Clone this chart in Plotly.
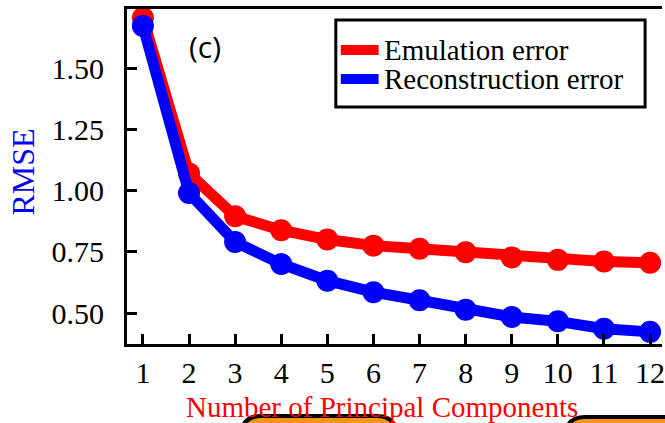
import plotly.graph_objects as go

components = [1, 2, 3, 4, 5, 6, 7, 8, 9, 10, 11, 12]
emulation_error = [1.705, 1.07, 0.895, 0.838, 0.80, 0.775, 0.762, 0.748, 0.727, 0.717, 0.710, 0.705]
reconstruction_error = [1.672, 0.99, 0.79, 0.70, 0.632, 0.585, 0.552, 0.513, 0.484, 0.466, 0.436, 0.423]
series_names = ["Emulation error", "Reconstruction error"]
y_ticks = [0.50, 0.75, 1.00, 1.25, 1.50]
y_tick_labels = ["0.50", "0.75", "1.00", "1.25", "1.50"]
x_tick_labels = [str(c) for c in components]

RED = "#ff0000"
BLUE = "#0000ff"
SERIF = "Liberation Serif, DejaVu Serif, serif"

W, H = 665, 423
L, R, T, B = 127, 0, 9, 79
PW, PH = W - L - R, H - T - B


def px(x):
    return (x - L) / PW


def py(y):
    return (H - B - y) / PH


fig = go.Figure()
for vals, col, name in [(emulation_error, RED, series_names[0]),
                        (reconstruction_error, BLUE, series_names[1])]:
    fig.add_trace(go.Scatter(
        x=components, y=vals, mode="lines+markers", name=name,
        line=dict(color=col, width=11),
        marker=dict(color=col, size=22),
        showlegend=False, cliponaxis=False,
    ))

shapes = []
# legend box
shapes.append(dict(type="rect", xref="paper", yref="paper",
                   x0=px(337), x1=px(648), y0=py(107), y1=py(20),
                   line=dict(color="black", width=3), fillcolor="white", layer="above"))
annotations = []
for i, (col, name) in enumerate([(RED, series_names[0]), (BLUE, series_names[1])]):
    yy = 50 + 29 * i
    shapes.append(dict(type="line", xref="paper", yref="paper",
                       x0=px(342), x1=px(380), y0=py(yy), y1=py(yy),
                       line=dict(color=col, width=10), layer="above"))
    annotations.append(dict(x=px(383), y=py(yy), xref="paper", yref="paper",
                            text=name, showarrow=False, xanchor="left", yanchor="middle",
                            font=dict(family=SERIF, size=29, color="black")))

# (c) label
annotations.append(dict(x=px(205), y=py(47), xref="paper", yref="paper", text="(c)",
                        showarrow=False, xanchor="center", yanchor="middle",
                        font=dict(family="Open Sans, DejaVu Sans, sans-serif", size=30, color="black")))
# axis titles
annotations.append(dict(x=px(22), y=py(172), xref="paper", yref="paper", text="RMSE",
                        showarrow=False, textangle=-90, xanchor="center", yanchor="middle",
                        font=dict(family=SERIF, size=32, color=BLUE)))
annotations.append(dict(x=px(383), y=py(407), xref="paper", yref="paper",
                        text="Number of Principal Components",
                        showarrow=False, xanchor="center", yanchor="middle",
                        font=dict(family=SERIF, size=29, color=RED)))


def rounded_top(x0, x1, ytop, ybot, r):
    rx = r / PW
    ry = r / PH
    X0, X1, YT, YB = px(x0), px(x1), py(ytop), py(ybot)
    return (f"M {X0},{YB} L {X0},{YT - ry} Q {X0},{YT} {X0 + rx},{YT} "
            f"L {X1 - rx},{YT} Q {X1},{YT} {X1},{YT - ry} L {X1},{YB} Z")


for x0, x1, ytop in [(242, 398, 416), (568, 720, 417)]:
    shapes.append(dict(type="path", xref="paper", yref="paper",
                       path=rounded_top(x0, x1, ytop, 460, 20),
                       fillcolor="#f7941d", line=dict(color="black", width=4), layer="above"))

fig.update_layout(
    width=W, height=H,
    margin=dict(l=L, r=R, t=T, b=B, pad=0),
    paper_bgcolor="white", plot_bgcolor="white",
    shapes=shapes, annotations=annotations,
    xaxis=dict(range=[1 - 16 / 46.36, 12 + 12 / 46.36], tickvals=components, ticktext=x_tick_labels,
               showgrid=False, zeroline=False, showline=True, linecolor="black", linewidth=3,
               mirror=True, ticks="inside", ticklen=10, tickwidth=3, tickcolor="black",
               ticklabelstandoff=0, ticklabeloverflow="allow",
               tickfont=dict(family=SERIF, size=30, color="black")),
    yaxis=dict(range=[0.3735, 1.741], tickvals=y_ticks, ticktext=y_tick_labels,
               showgrid=False, zeroline=False, showline=True, linecolor="black", linewidth=3,
               ticks="inside", ticklen=10, tickwidth=3, tickcolor="black",
               ticklabelstandoff=14,
               tickfont=dict(family=SERIF, size=30, color="black")),
)

fig.write_html("out.html")
